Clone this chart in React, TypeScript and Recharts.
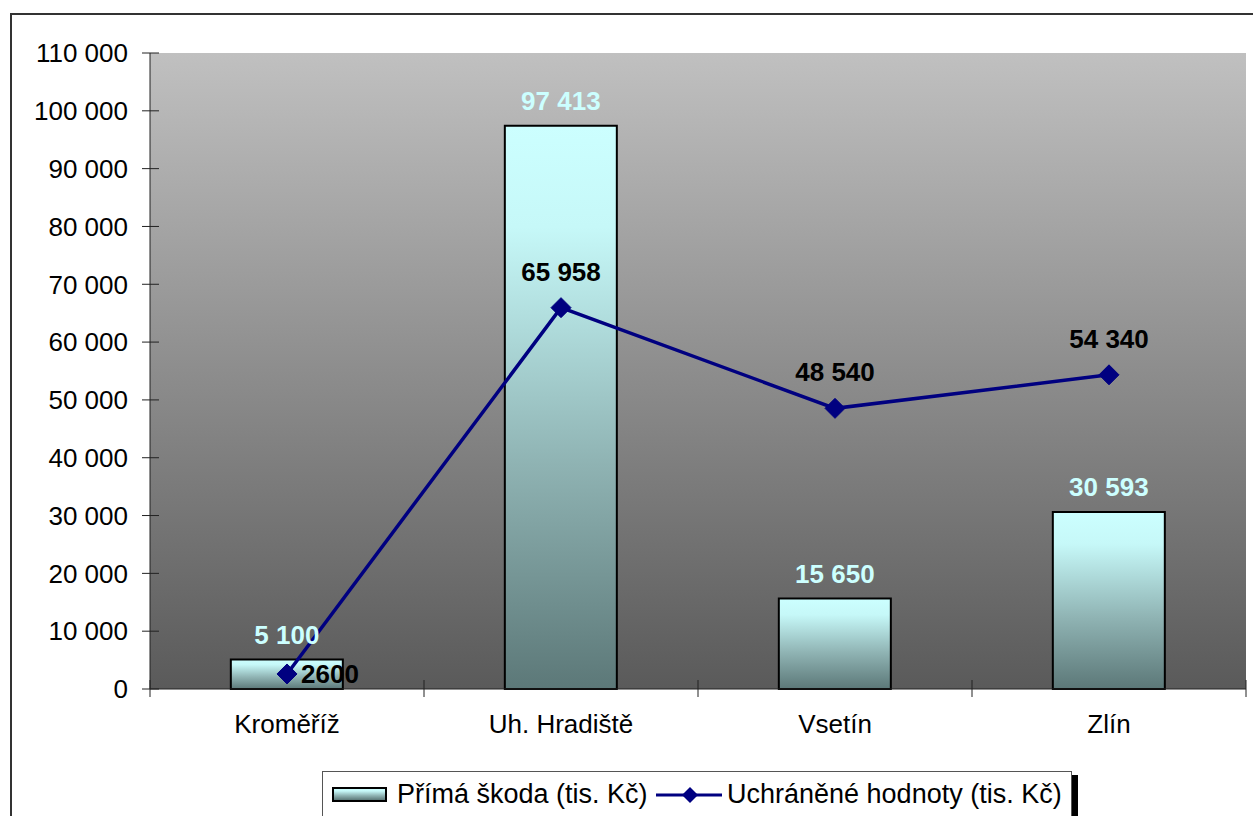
import React from "react";
import {
  ComposedChart,
  Bar,
  Line,
  XAxis,
  YAxis,
  CartesianGrid,
  LabelList,
} from "recharts";

const districts = ["Kroměříž", "Uh. Hradiště", "Vsetín", "Zlín"];
const directDamage = [5100, 97413, 15650, 30593];
const savedValues = [2600, 65958, 48540, 54340];
const yTicks = [0, 10000, 20000, 30000, 40000, 50000, 60000, 70000, 80000, 90000, 100000, 110000];

const data = districts.map((name, i) => ({
  name,
  damage: directDamage[i],
  saved: savedValues[i],
}));

const FONT = "'Liberation Sans', Arial, sans-serif";
const FS = 26;

const fmt = (v: number) => String(v).replace(/\B(?=(\d{3})+(?!\d))/g, " ");

const YTick = (props: any) => {
  const { x, y, payload } = props;
  return (
    <g>
      <line x1={x - 8} x2={x + 9} y1={y} y2={y} stroke="#222" strokeWidth={1} />
      <text x={x - 22} y={y} dy="0.355em" textAnchor="end" fontSize={FS} fontFamily={FONT} fill="#000">
        {fmt(payload.value)}
      </text>
    </g>
  );
};

const XTick = (props: any) => {
  const { x, y, payload, index, visibleTicksCount } = props;
  const half = payload.offset || 137;
  return (
    <g>
      <line x1={x - half} x2={x - half} y1={y - 9} y2={y + 8} stroke="#222" strokeWidth={1} />
      {index === visibleTicksCount - 1 && (
        <line x1={x + half} x2={x + half} y1={y - 9} y2={y + 8} stroke="#222" strokeWidth={1} />
      )}
      <text x={x} y={y + 44} textAnchor="middle" fontSize={FS} fontFamily={FONT} fill="#000">
        {payload.value}
      </text>
    </g>
  );
};

const Diamond = (props: any) => {
  const { cx, cy } = props;
  if (cx == null || cy == null) return null;
  const r = 10;
  return (
    <polygon
      points={`${cx},${cy - r} ${cx + r},${cy} ${cx},${cy + r} ${cx - r},${cy}`}
      fill="#000080"
      stroke="#000080"
    />
  );
};

const LineLabel = (props: any) => {
  const { x, y, value, index } = props;
  if (index === 0) {
    return (
      <text x={x + 14} y={y} dy="0.355em" textAnchor="start" fontSize={FS} fontWeight="bold" fontFamily={FONT} fill="#000">
        {value}
      </text>
    );
  }
  return (
    <text x={x} y={y - 27} textAnchor="middle" fontSize={FS} fontWeight="bold" fontFamily={FONT} fill="#000">
      {fmt(value)}
    </text>
  );
};

const BarLabel = (props: any) => {
  const { x, y, width, value } = props;
  return (
    <text x={x + width / 2} y={y - 16} textAnchor="middle" fontSize={FS} fontWeight="bold" fontFamily={FONT} fill="#ccffff">
      {fmt(value)}
    </text>
  );
};

const legendText: React.CSSProperties = {
  position: "absolute",
  top: 7,
  fontSize: 27,
  lineHeight: "30px",
  whiteSpace: "nowrap",
  color: "#000",
};

const App = () => {
  return (
    <div
      style={{
        position: "absolute",
        left: 0,
        top: 0,
        width: 1253,
        height: 816,
        overflow: "hidden",
        background: "#fff",
        fontFamily: FONT,
      }}
    >
      <div
        style={{
          position: "absolute",
          left: 10,
          top: 13,
          width: 1300,
          height: 900,
          border: "2px solid #333",
          boxSizing: "border-box",
        }}
      />
      <div style={{ position: "absolute", left: 0, top: 0 }}>
        <ComposedChart
          width={1253}
          height={816}
          data={data}
          margin={{ top: 53, right: 7, bottom: 0, left: 0 }}
          barCategoryGap="29.5%"
        >
          <defs>
            <linearGradient id="bg" x1="0" y1="0" x2="0" y2="1">
              <stop offset="0%" stopColor="#c0c0c0" />
              <stop offset="100%" stopColor="#5a5a5a" />
            </linearGradient>
            <linearGradient id="barFill" x1="0" y1="0" x2="0" y2="1">
              <stop offset="0%" stopColor="#ccffff" />
              <stop offset="18%" stopColor="#c6f8f8" />
              <stop offset="60%" stopColor="#8fb3b3" />
              <stop offset="100%" stopColor="#5c7878" />
            </linearGradient>
          </defs>
          <CartesianGrid horizontal={false} vertical={false} fill="url(#bg)" fillOpacity={1} />
          <XAxis
            dataKey="name"
            height={127}
            tickSize={0}
            tickMargin={0}
            tick={<XTick />}
            tickLine={false}
            axisLine={{ stroke: "#222", strokeWidth: 1 }}
            interval={0}
          />
          <XAxis xAxisId="top" orientation="top" dataKey="name" height={0} tick={false} tickLine={false} axisLine={{ stroke: "#7a7a7a", strokeWidth: 2 }} />
          <YAxis
            width={150}
            domain={[0, 110000]}
            ticks={yTicks}
            interval={0}
            tickSize={0}
            tickMargin={0}
            tick={<YTick />}
            tickLine={false}
            axisLine={{ stroke: "#222", strokeWidth: 1 }}
          />
          <YAxis yAxisId="right" orientation="right" width={0} domain={[0, 110000]} tick={false} tickLine={false} axisLine={{ stroke: "#8a8a8a", strokeWidth: 3 }} />
          <Bar
            dataKey="damage"
            fill="url(#barFill)"
            stroke="#000"
            strokeWidth={2}
            isAnimationActive={false}
          >
            <LabelList dataKey="damage" content={<BarLabel />} />
          </Bar>
          <Line
            dataKey="saved"
            stroke="#000080"
            strokeWidth={3.5}
            dot={<Diamond />}
            activeDot={false}
            isAnimationActive={false}
          >
            <LabelList dataKey="saved" content={<LineLabel />} />
          </Line>
        </ComposedChart>
      </div>
      <div
        style={{
          position: "absolute",
          left: 322,
          top: 771,
          width: 750,
          height: 60,
          border: "1px solid #555",
          background: "#fff",
          boxShadow: "6px 4px 0 #000",
          boxSizing: "border-box",
        }}
      >
        <div
          style={{
            position: "absolute",
            left: 9,
            top: 15,
            width: 51,
            height: 11,
            border: "2px solid #000",
            background: "linear-gradient(#ccffff, #c6f8f8 18%, #8fb3b3 60%, #5c7878)",
          }}
        />
        <div style={{ ...legendText, left: 74 }}>Přímá škoda (tis. Kč)</div>
        <svg style={{ position: "absolute", left: 332, top: 8 }} width={68} height={30}>
          <line x1={1} x2={67} y1={15} y2={15} stroke="#000080" strokeWidth={3} />
          <polygon points="35,7 43,15 35,23 27,15" fill="#000080" />
        </svg>
        <div style={{ ...legendText, left: 404 }}>Uchráněné hodnoty (tis. Kč)</div>
      </div>
    </div>
  );
};

export default App;
